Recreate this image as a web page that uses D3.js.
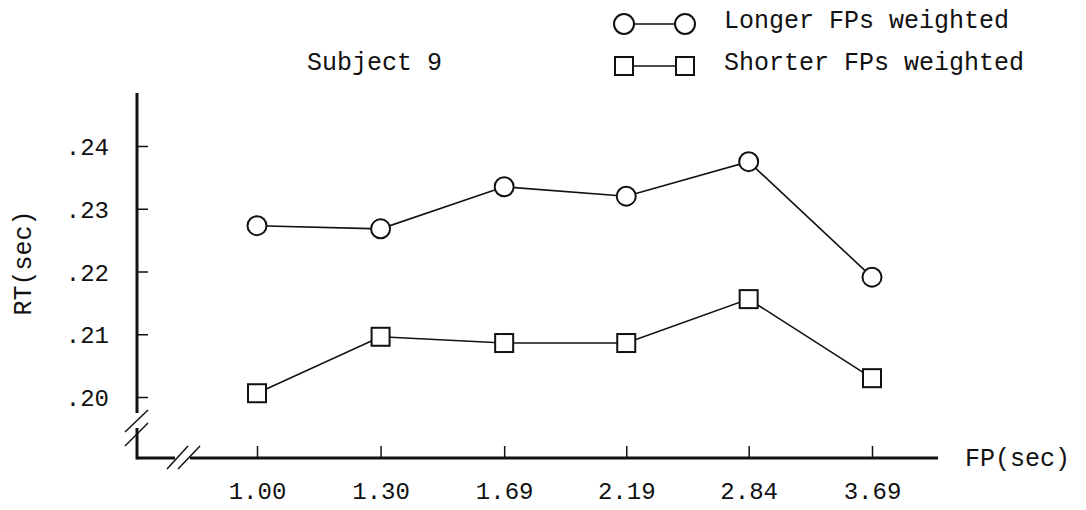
<!DOCTYPE html>
<html>
<head>
<meta charset="utf-8">
<script src="https://cdn.jsdelivr.net/npm/d3@7"></script>
<style>
  html, body { margin: 0; padding: 0; background: #fff; }
  svg { display: block; }
  text { font-family: "Liberation Mono", "DejaVu Sans Mono", monospace; fill: #111; }
</style>
</head>
<body>
<svg id="chart" width="1086" height="510"></svg>
<script>
// Foreperiod (FP, sec) levels, spaced geometrically
const fpValues = [1.00, 1.30, 1.69, 2.19, 2.84, 3.69];
const fpTickLabels = ["1.00", "1.30", "1.69", "2.19", "2.84", "3.69"];

// Mean reaction time (sec) per FP
const longerWeighted = [0.2273, 0.2268, 0.2335, 0.2320, 0.2375, 0.2191];
const shorterWeighted = [0.2006, 0.2096, 0.2086, 0.2086, 0.2156, 0.2030];

const rtTicks = [0.20, 0.21, 0.22, 0.23, 0.24];
const rtTickLabels = [".20", ".21", ".22", ".23", ".24"];

const seriesNames = ["Longer FPs weighted", "Shorter FPs weighted"];
const chartTitle = "Subject 9";

const svg = d3.select("#chart");
const ink = "#111";

// Frame geometry
const axisX = 137, axisY = 458, axisTop = 93, axisRight = 938;

const x = d3.scaleLog().domain([1.00, 3.69]).range([257, 872]);
const y = d3.scaleLinear().domain([0.20, 0.24]).range([397, 146]);

// Axes (ticks point inward)
const yAxis = d3.axisLeft(y)
  .tickValues(rtTicks)
  .tickFormat((d, i) => rtTickLabels[i])
  .tickSize(-11)
  .tickPadding(28);
const gy = svg.append("g").attr("transform", `translate(${axisX},0)`).call(yAxis);
gy.select(".domain").remove();
gy.selectAll(".tick line").attr("stroke", ink).attr("stroke-width", 1.5);
gy.selectAll(".tick text").style("font-size", "24px").attr("dy", "0.36em").attr("fill", ink);

const xAxis = d3.axisBottom(x)
  .tickValues(fpValues)
  .tickFormat((d, i) => fpTickLabels[i])
  .tickSize(-12)
  .tickPadding(24);
const gx = svg.append("g").attr("transform", `translate(0,${axisY})`).call(xAxis);
gx.select(".domain").remove();
gx.selectAll(".tick line").attr("stroke", ink).attr("stroke-width", 1.5);
gx.selectAll(".tick text").style("font-size", "24px").attr("fill", ink);

// Axis lines with breaks
const axisG = svg.append("g").attr("stroke", ink).attr("stroke-width", 3).attr("fill", "none");
axisG.append("line").attr("x1", axisX).attr("x2", axisX).attr("y1", axisTop).attr("y2", 413);
axisG.append("line").attr("x1", axisX).attr("x2", axisX).attr("y1", 428).attr("y2", axisY + 1.5);
axisG.append("line").attr("x1", axisX).attr("x2", 175).attr("y1", axisY).attr("y2", axisY);
axisG.append("line").attr("x1", 190).attr("x2", axisRight).attr("y1", axisY).attr("y2", axisY);

const breakG = svg.append("g").attr("stroke", ink).attr("stroke-width", 1.5);
[[125, 432, 148, 410], [125, 446, 148, 423],
 [167, 469, 188, 446], [178, 469, 200, 446]].forEach(([x1, y1, x2, y2]) =>
  breakG.append("line").attr("x1", x1).attr("y1", y1).attr("x2", x2).attr("y2", y2));

// Series lines and markers
const line = d3.line().x(d => x(d[0])).y(d => y(d[1]));
const longerPts = fpValues.map((f, i) => [f, longerWeighted[i]]);
const shorterPts = fpValues.map((f, i) => [f, shorterWeighted[i]]);

svg.append("path").datum(longerPts).attr("d", line)
  .attr("fill", "none").attr("stroke", ink).attr("stroke-width", 1.6);
svg.append("path").datum(shorterPts).attr("d", line)
  .attr("fill", "none").attr("stroke", ink).attr("stroke-width", 1.6);

svg.append("g").selectAll("circle").data(longerPts).join("circle")
  .attr("cx", d => x(d[0])).attr("cy", d => y(d[1])).attr("r", 9.5)
  .attr("fill", "#fff").attr("stroke", ink).attr("stroke-width", 2);

const sq = 18;
svg.append("g").selectAll("rect").data(shorterPts).join("rect")
  .attr("x", d => x(d[0]) - sq / 2).attr("y", d => y(d[1]) - sq / 2)
  .attr("width", sq).attr("height", sq)
  .attr("fill", "#fff").attr("stroke", ink).attr("stroke-width", 2);

// Axis titles and chart title
svg.append("text").attr("x", axisRight + 27).attr("y", axisY + 8)
  .style("font-size", "25px").text("FP(sec)");
svg.append("text")
  .attr("transform", `translate(31,263) rotate(-90)`)
  .attr("text-anchor", "middle").style("font-size", "25px").text("RT(sec)");
svg.append("text").attr("x", 307).attr("y", 70)
  .style("font-size", "25px").text(chartTitle);

// Legend
const legend = svg.append("g");
const rows = [{ y: 24, shape: "circle" }, { y: 66, shape: "square" }];
rows.forEach((r, i) => {
  const xs = [624, 685];
  legend.append("line").attr("x1", xs[0]).attr("x2", xs[1]).attr("y1", r.y).attr("y2", r.y)
    .attr("stroke", ink).attr("stroke-width", 1.6);
  xs.forEach(cx => {
    if (r.shape === "circle") {
      legend.append("circle").attr("cx", cx).attr("cy", r.y).attr("r", 10)
        .attr("fill", "#fff").attr("stroke", ink).attr("stroke-width", 2);
    } else {
      legend.append("rect").attr("x", cx - sq / 2).attr("y", r.y - sq / 2)
        .attr("width", sq).attr("height", sq)
        .attr("fill", "#fff").attr("stroke", ink).attr("stroke-width", 2);
    }
  });
  legend.append("text").attr("x", 724).attr("y", r.y + 4)
    .style("font-size", "25px").text(seriesNames[i]);
});
</script>
</body>
</html>
